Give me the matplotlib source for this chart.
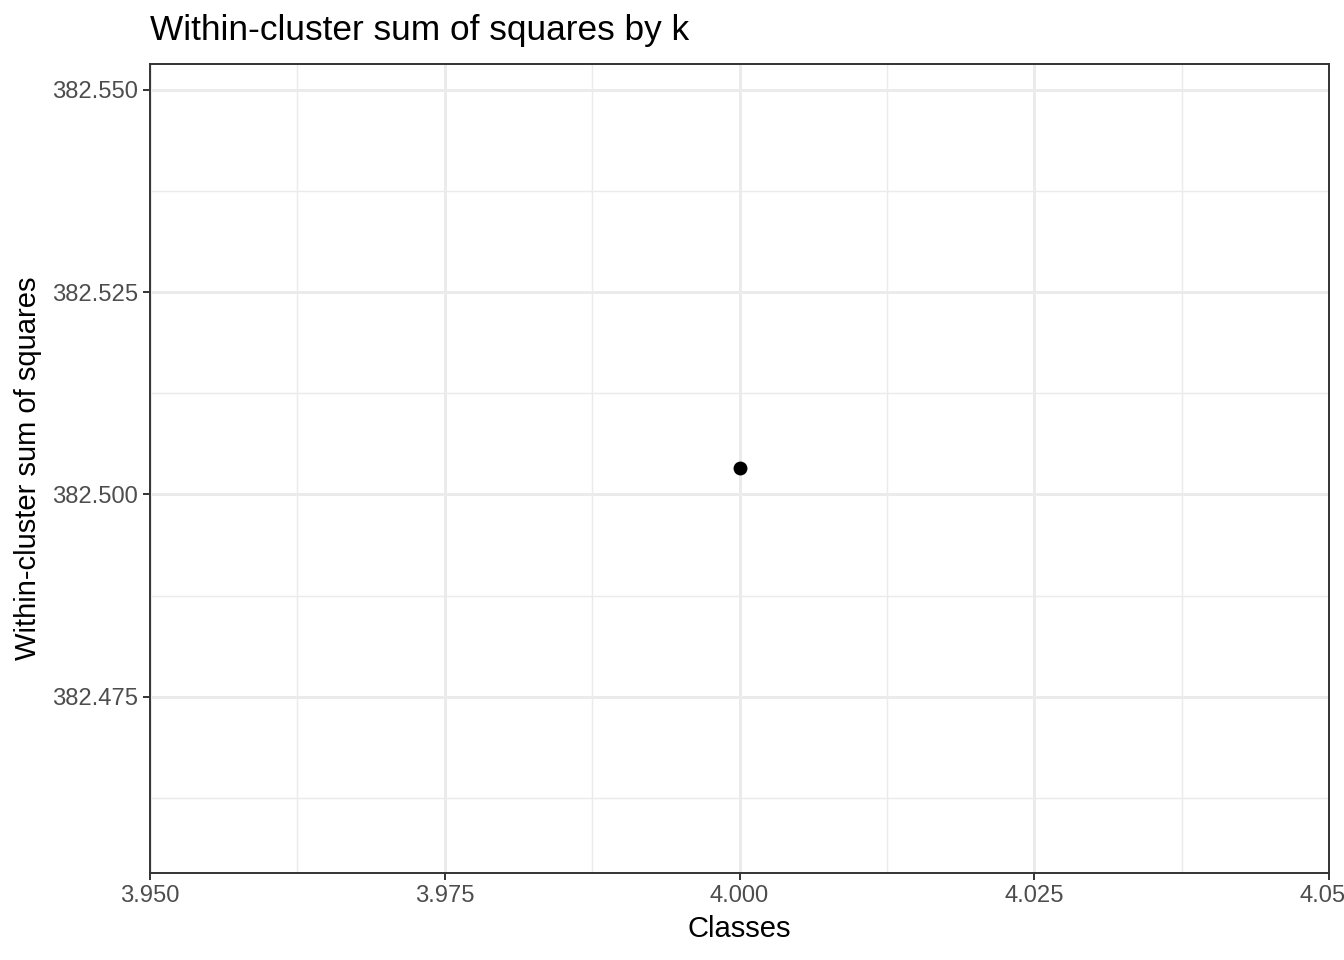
import matplotlib.pyplot as plt
from matplotlib.ticker import MultipleLocator, FormatStrFormatter

# data: one k value and its WSS
classes = [4]
wss = [382.5033]

plt.rcParams['font.family'] = ['Liberation Sans', 'DejaVu Sans']

fig = plt.figure(figsize=(13.44, 9.6), dpi=100)
ax = fig.add_axes([150 / 1344, 1 - 872.5 / 960, (1329 - 150) / 1344, (872.5 - 64) / 960])

ax.set_xlim(3.95, 4.05)
ax.set_ylim(382.45333, 382.55315)

ax.xaxis.set_major_locator(MultipleLocator(0.025))
ax.xaxis.set_minor_locator(MultipleLocator(0.0125))
ax.yaxis.set_major_locator(MultipleLocator(0.025))
ax.yaxis.set_minor_locator(MultipleLocator(0.0125))
ax.xaxis.set_major_formatter(FormatStrFormatter('%.3f'))
ax.yaxis.set_major_formatter(FormatStrFormatter('%.3f'))

ax.grid(True, which='major', color='#EBEBEB', linewidth=2.1)
ax.grid(True, which='minor', color='#EBEBEB', linewidth=1.05)
ax.set_axisbelow(True)

ax.scatter(classes, wss, s=100, color='black', zorder=3, linewidths=0)

for sp in ax.spines.values():
    sp.set_color('#333333')
    sp.set_linewidth(1.4)

ax.tick_params(which='major', length=5.3, width=1.4, color='#333333',
               labelsize=17.1, labelcolor='#4D4D4D', pad=3.5)
ax.tick_params(which='minor', length=0)

ax.set_xlabel('Classes', fontsize=21, labelpad=6)
ax.set_ylabel('Within-cluster sum of squares', fontsize=21, labelpad=7)
ax.set_title('Within-cluster sum of squares by k', loc='left', fontsize=25.4, pad=17)

fig.savefig('out.png', dpi=100)
